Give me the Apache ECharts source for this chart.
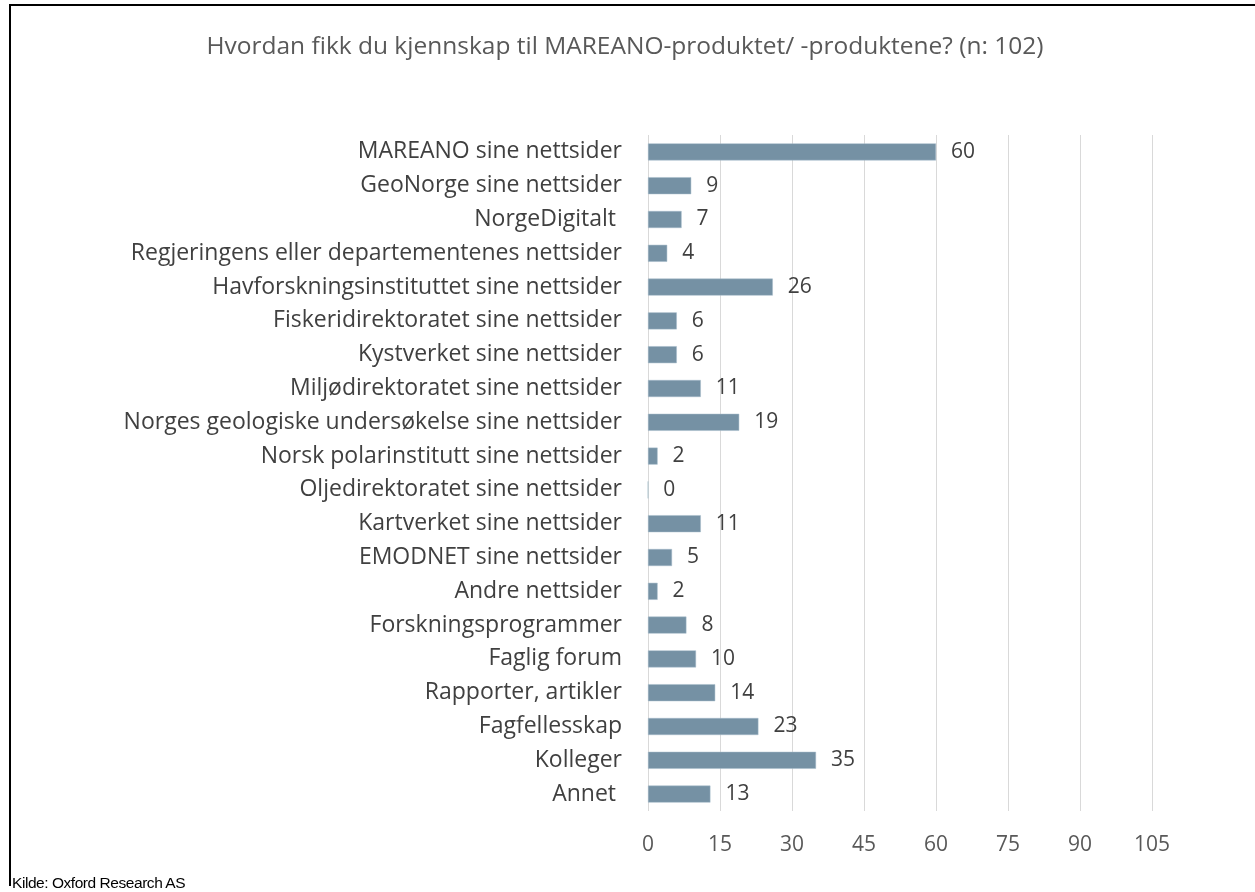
<!DOCTYPE html>
<html>
<head>
<meta charset="utf-8">
<script src="https://cdn.jsdelivr.net/npm/echarts@6/dist/echarts.min.js"></script>
<style>
  html, body { margin: 0; padding: 0; background: #fff; }
  #frame {
    position: absolute; left: 9px; top: 4px; width: 1246px; height: 880px;
    border-left: 2px solid #000; border-top: 2px solid #000;
  }
  #chart { position: absolute; left: 0; top: 0; width: 1255px; height: 892px; }
  #source {
    position: absolute; left: 12px; top: 874px;
    font-family: "Liberation Sans", Arial, sans-serif; font-size: 15.5px; color: #000;
    letter-spacing: -0.45px;
  }
</style>
</head>
<body>
<div id="frame"></div>
<div id="chart"></div>
<div id="source">Kilde: Oxford Research AS</div>
<script>
var categories = [
  'MAREANO sine nettsider',
  'GeoNorge sine nettsider',
  'NorgeDigitalt ',
  'Regjeringens eller departementenes nettsider',
  'Havforskningsinstituttet sine nettsider',
  'Fiskeridirektoratet sine nettsider',
  'Kystverket sine nettsider',
  'Miljødirektoratet sine nettsider',
  'Norges geologiske undersøkelse sine nettsider',
  'Norsk polarinstitutt sine nettsider',
  'Oljedirektoratet sine nettsider',
  'Kartverket sine nettsider',
  'EMODNET sine nettsider',
  'Andre nettsider',
  'Forskningsprogrammer',
  'Faglig forum',
  'Rapporter, artikler',
  'Fagfellesskap',
  'Kolleger',
  'Annet '
];
var counts = [60, 9, 7, 4, 26, 6, 6, 11, 19, 2, 0, 11, 5, 2, 8, 10, 14, 23, 35, 13];
var axisMin = 0;
var axisMax = 105;
var axisStep = 15;

var font = '"Open Sans", "Noto Sans", sans-serif';
var chart = echarts.init(document.getElementById('chart'));
chart.setOption({
  animation: false,
  textStyle: { fontFamily: font },
  title: {
    text: 'Hvordan fikk du kjennskap til MAREANO-produktet/ -produktene? (n: 102)',
    left: 620, top: 30, textAlign: 'center',
    textStyle: { fontSize: 24.5, fontWeight: 'normal', color: '#595959', fontFamily: font }
  },
  grid: { left: 648, right: 103, top: 135, height: 676, containLabel: false },
  xAxis: {
    type: 'value', min: axisMin, max: axisMax, interval: axisStep,
    axisLine: { show: false }, axisTick: { show: false },
    splitLine: { show: true, lineStyle: { color: '#d9d9d9', width: 1 } },
    axisLabel: { fontSize: 21, color: '#595959', margin: 24 }
  },
  yAxis: {
    type: 'category', data: categories, inverse: true,
    axisLine: { show: false }, axisTick: { show: false },
    axisLabel: { fontSize: 23, color: '#404040', margin: 26, padding: [3, 0, 0, 0] }
  },
  series: [{
    type: 'bar', data: counts, barWidth: 17,
    itemStyle: { color: '#7591a4', borderColor: '#a7bccb', borderWidth: 0.5 },
    label: { show: true, position: 'right', distance: 15, fontSize: 21, color: '#404040', padding: [3, 0, 0, 0] }
  }]
});
</script>
</body>
</html>
